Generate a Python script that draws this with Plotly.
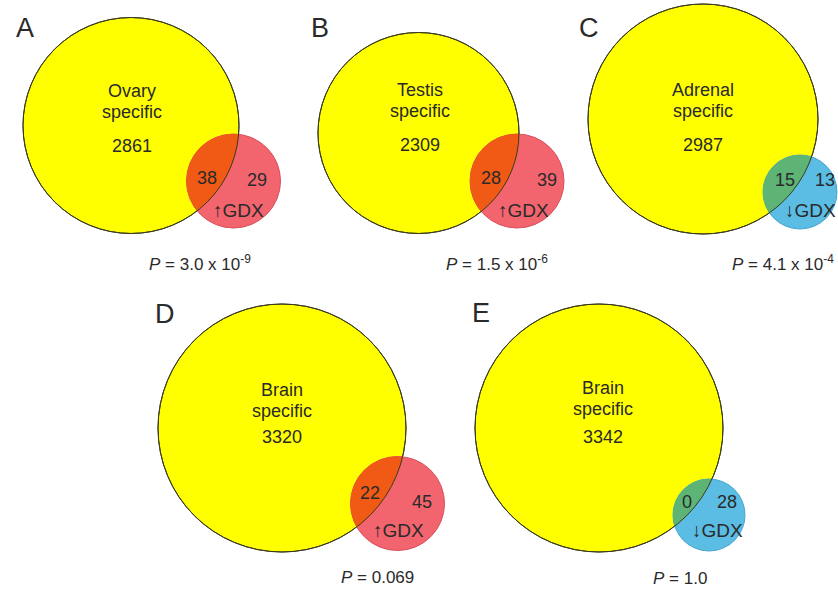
import numpy as np
import plotly.graph_objects as go

# ---- data ----
panels = ["A", "B", "C", "D", "E"]
tissues = ["Ovary", "Testis", "Adrenal", "Brain", "Brain"]
tissue_only = [2861, 2309, 2987, 3320, 3342]
overlap = [38, 28, 15, 22, 0]
gdx_only = [29, 39, 13, 45, 28]
direction = ["up", "up", "down", "up", "down"]
p_values = ["3.0 x 10<sup>-9</sup>", "1.5 x 10<sup>-6</sup>", "4.1 x 10<sup>-4</sup>", "0.069", "1.0"]

# ---- layout geometry (pixels) ----
big = [(131, 125.5, 108), (418.5, 133, 100.5), (703, 119, 115), (282, 428, 124), (599, 428, 124)]
small = [(233.5, 181, 47), (517, 181, 47), (800, 192, 37), (397.5, 503.5, 47), (709, 515, 36)]
letter_pos = [(25, 28), (320, 28), (589, 28), (165, 314), (481, 313)]
name_pos = [(132, 91), (420, 90), (703, 90), (282, 390), (603, 388)]
count_pos = [(132, 146), (420, 145), (703, 145), (282, 437), (603, 437)]
ov_pos = [(207, 178), (491, 178), (785, 180), (370, 493), (687, 502)]
gx_pos = [(257, 180), (547, 180), (825, 180), (422, 502), (727, 502)]
gdx_pos = [(238, 210), (523, 210), (810, 210), (398, 530), (717, 530)]
p_pos = [(200, 263), (497, 263), (783, 263), (377, 577), (680, 578)]

colors = {
    "up": dict(fill="#F2646E", line="#D8505C", lens="#F05A14"),
    "down": dict(fill="#5BBCE4", line="#48A6CE", lens="#5DB474"),
}

W, H = 838, 593
FONT = "Liberation Sans, Arial, sans-serif"
TXT = "#2a2a2a"

fig = go.Figure()
shapes = []
ann = []


def circle(cx, cy, r, **kw):
    return dict(type="circle", xref="x", yref="y", x0=cx - r, x1=cx + r, y0=cy - r, y1=cy + r, **kw)


def lens_path(c1, c2):
    x1, y1, r1 = c1
    x2, y2, r2 = c2
    dx, dy = x2 - x1, y2 - y1
    d = np.hypot(dx, dy)
    a = (r1 ** 2 - r2 ** 2 + d ** 2) / (2 * d)
    h = np.sqrt(max(r1 ** 2 - a ** 2, 0))
    phi = np.arctan2(dy, dx)
    al1 = np.arctan2(h, a)
    al2 = np.arctan2(h, d - a)
    t1 = np.linspace(phi - al1, phi + al1, 60)
    t2 = np.linspace(phi + np.pi - al2, phi + np.pi + al2, 60)
    px = np.concatenate([x1 + r1 * np.cos(t1), x2 + r2 * np.cos(t2)])
    py = np.concatenate([y1 + r1 * np.sin(t1), y2 + r2 * np.sin(t2)])
    pts = ["%s%.2f,%.2f" % ("M" if i == 0 else "L", x, y) for i, (x, y) in enumerate(zip(px, py))]
    return "".join(pts) + "Z"


def add(txt, pos, size=18):
    ann.append(dict(x=pos[0], y=pos[1], xref="x", yref="y", text=txt, showarrow=False,
                    xanchor="center", yanchor="middle",
                    font=dict(family=FONT, size=size, color=TXT)))


for i in range(len(panels)):
    c = colors[direction[i]]
    bx, by, br = big[i]
    sx, sy, sr = small[i]
    shapes.append(circle(bx, by, br, fillcolor="#FFFF00", line=dict(color="#3a3a1e", width=1)))
    shapes.append(circle(sx, sy, sr, fillcolor=c["fill"], line=dict(color=c["line"], width=1)))
    shapes.append(dict(type="path", xref="x", yref="y", path=lens_path(big[i], small[i]),
                       fillcolor=c["lens"], line=dict(width=0)))
    shapes.append(circle(bx, by, br, fillcolor="rgba(0,0,0,0)", line=dict(color="#3a3a1e", width=1)))

    add(panels[i], letter_pos[i], size=27)
    add(tissues[i], name_pos[i])
    add("specific", (name_pos[i][0], name_pos[i][1] + 21))
    add(str(tissue_only[i]), count_pos[i])
    add(str(overlap[i]), ov_pos[i])
    add(str(gdx_only[i]), gx_pos[i])
    arrow = "\u2191" if direction[i] == "up" else "\u2193"
    add(arrow + "GDX", gdx_pos[i], size=19)
    add("<i>P</i> = " + p_values[i], p_pos[i], size=17)

fig.update_layout(
    width=W, height=H,
    margin=dict(l=0, r=0, t=0, b=0),
    paper_bgcolor="white", plot_bgcolor="white",
    xaxis=dict(range=[0, W], visible=False, fixedrange=True),
    yaxis=dict(range=[H, 0], visible=False, fixedrange=True),
    shapes=shapes, annotations=ann, showlegend=False,
)

fig.write_html("out.html", config={"displayModeBar": False},
               post_script="document.body.style.margin='0';document.body.style.overflow='hidden';")
